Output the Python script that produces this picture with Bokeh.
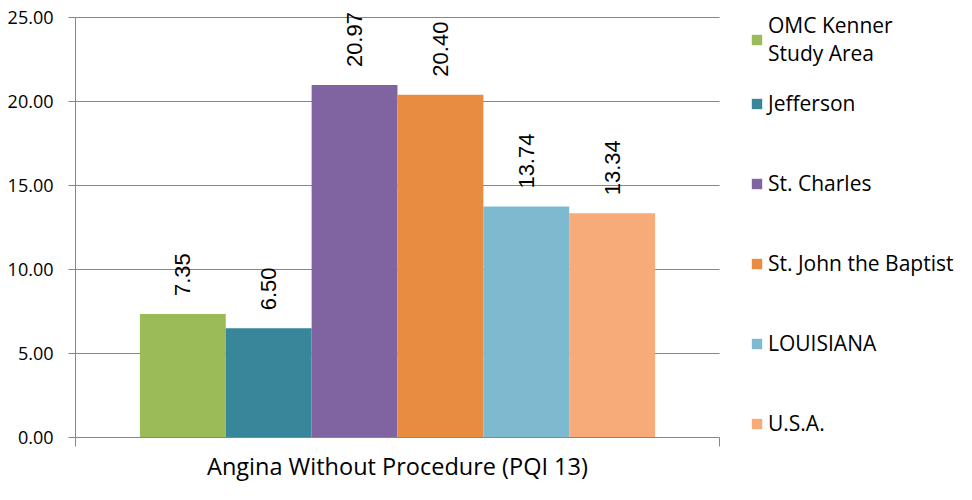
import math
from bokeh.plotting import figure
from bokeh.models import (Range1d, FixedTicker, NumeralTickFormatter, ColumnDataSource,
                          Legend, LegendItem)
from bokeh.core.properties import value
from bokeh.embed import file_html
from bokeh.resources import INLINE

# ---- data ----
category = "Angina Without Procedure (PQI 13)"
series = ["OMC Kenner\nStudy Area", "Jefferson", "St. Charles",
          "St. John the Baptist", "LOUISIANA", "U.S.A."]
values = [7.35, 6.50, 20.97, 20.40, 13.74, 13.34]
value_labels = ["7.35", "6.50", "20.97", "20.40", "13.74", "13.34"]
colors = ["#9BBB59", "#378699", "#8064A2", "#E88C41", "#7EBACF", "#F7AB79"]
y_ticks = [0, 5, 10, 15, 20, 25]

# ---- style / layout ----
W, H = 956, 484
LEFT, BOTTOM = 75, 44          # panel sizes in px
PLOT_W = 644                   # width of the bar area in px
TOP_PAD = 17                   # px above the y_max gridline (room for labels)
GAP = 1.5                      # Excel-like gap width, in bar widths
AXIS_GRAY = "#868686"

n = len(series)
xs = list(range(n))
x_lo = -0.5 - GAP / 2
x_hi = n - 0.5 + GAP / 2
x_mid = (x_lo + x_hi) / 2
y_max = y_ticks[-1]

frame_w = W - LEFT
frame_h = H - BOTTOM
x_end = x_lo + (x_hi - x_lo) * frame_w / PLOT_W
y_end = y_max * frame_h / (frame_h - TOP_PAD)

src = ColumnDataSource(dict(x=xs, top=values, color=colors, label=value_labels))

p = figure(width=W, height=H, output_backend="svg", toolbar_location=None,
           x_range=Range1d(x_lo, x_end), y_range=Range1d(0, y_end),
           min_border_left=LEFT, min_border_top=0, min_border_bottom=BOTTOM,
           min_border_right=0)
p.outline_line_color = None
p.background_fill_color = "white"
p.border_fill_color = "white"

bars = p.vbar(x="x", top="top", bottom=0, width=1.0, fill_color="color",
              line_color=None, source=src)

p.text(x="x", y="top", text="label", source=src, angle=math.pi / 2,
       text_align="left", text_baseline="middle", y_offset=-18,
       text_font=value("Liberation Sans"), text_font_size="22px",
       text_color="black")

# y axis
p.yaxis.ticker = FixedTicker(ticks=y_ticks)
p.yaxis.bounds = (0, y_max)
p.yaxis.formatter = NumeralTickFormatter(format="0.00")
p.yaxis.major_tick_out = 7
p.yaxis.major_tick_in = 0
p.yaxis.minor_tick_line_color = None
p.yaxis.axis_line_color = AXIS_GRAY
p.yaxis.major_tick_line_color = AXIS_GRAY
p.yaxis.major_label_text_font = "Open Sans"
p.yaxis.major_label_text_font_size = "18px"
p.yaxis.major_label_text_color = "black"
p.yaxis.major_label_standoff = 15

p.ygrid.ticker = FixedTicker(ticks=y_ticks)
p.ygrid.cross_bounds = (x_lo, x_hi)
p.ygrid.grid_line_color = AXIS_GRAY
p.ygrid.grid_line_width = 1
p.xgrid.grid_line_color = None

# x axis: category name at the centre, tick marks at the category boundaries
p.xaxis.ticker = FixedTicker(ticks=[x_mid], minor_ticks=[x_lo, x_hi])
p.xaxis.bounds = (x_lo, x_hi)
p.xaxis.major_label_overrides = {x_mid: category}
p.xaxis.major_tick_line_color = None
p.xaxis.major_tick_out = 9
p.xaxis.major_tick_in = 0
p.xaxis.minor_tick_out = 9
p.xaxis.minor_tick_in = 0
p.xaxis.minor_tick_line_color = AXIS_GRAY
p.xaxis.axis_line_color = AXIS_GRAY
p.xaxis.major_label_standoff = 3
p.xaxis.major_label_text_font = "Open Sans"
p.xaxis.major_label_text_font_size = "23.5px"
p.xaxis.major_label_text_color = "black"

legend_style = dict(label_text_font="Open Sans", label_text_font_size="21px",
                    label_text_color="black", glyph_width=13, glyph_height=13,
                    label_standoff=5, padding=0, margin=0,
                    border_line_color=None, background_fill_alpha=0,
                    orientation="vertical")

items = [LegendItem(label=s, renderers=[bars], index=i) for i, s in enumerate(series)]
legend_a = Legend(items=items[:1], location=(675, 370), **legend_style)
legend_b = Legend(items=items[1:], location=(675, 0), spacing=52, **legend_style)
p.add_layout(legend_a)
p.add_layout(legend_b)

open("out.html", "w").write(file_html(p, INLINE))
